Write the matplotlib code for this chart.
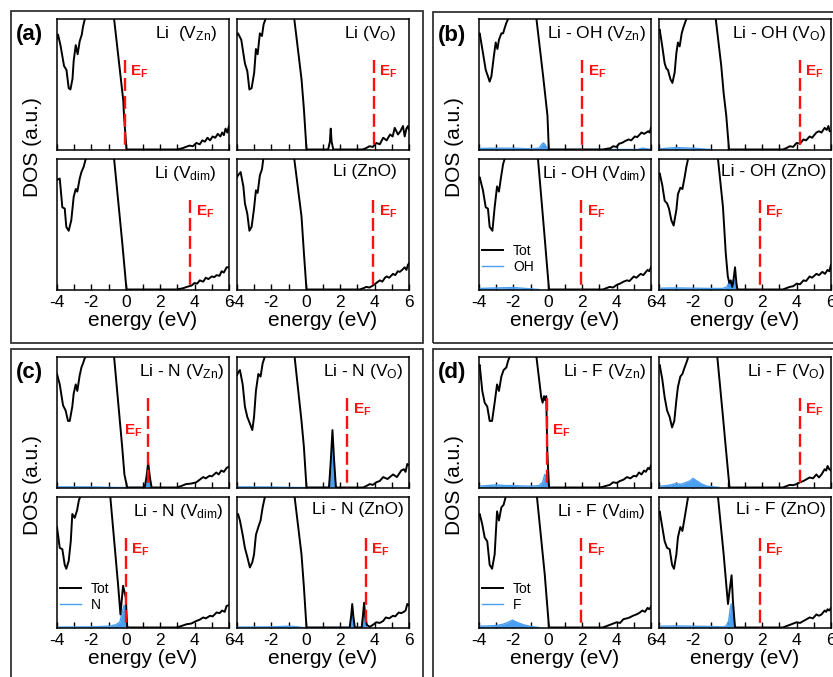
import matplotlib.pyplot as plt
from matplotlib.patches import Rectangle

plt.rcParams['font.family'] = 'Liberation Sans'
plt.rcParams['mathtext.fontset'] = 'custom'
plt.rcParams['mathtext.rm'] = 'Liberation Sans'
plt.rcParams['mathtext.it'] = 'Liberation Sans:italic'
plt.rcParams['mathtext.bf'] = 'Liberation Sans:bold'
plt.rcParams['axes.unicode_minus'] = False

# ---------------- (a) Li ----------------
a1_E = [-4.0, -3.94, -3.8, -3.59, -3.45, -3.32, -3.22, -3.1, -3.03, -2.91, -2.8, -2.68, -2.56, -2.49, -2.38,
        -2.3, -0.72, -0.68, -0.15, -0.1, 0.04, 3.0, 3.3, 3.5, 3.7, 3.9, 4.1, 4.3, 4.45, 4.6,
        4.75, 4.9, 5.05, 5.2, 5.35, 5.5, 5.6, 5.7, 5.8, 5.9, 6.0]
a1_D = [0.85, 0.88, 0.80, 0.64, 0.61, 0.47, 0.46, 0.54, 0.68, 0.80, 0.73, 0.83, 0.88, 0.94, 1.0,
        1.1, 1.1, 1.0, 0.38, 0.25, 0.0, 0.0, 0.01, 0.02, 0.03, 0.025, 0.05, 0.04, 0.07, 0.06,
        0.09, 0.07, 0.10, 0.09, 0.12, 0.10, 0.13, 0.11, 0.16, 0.13, 0.18]
a2_E = [-4.0, -3.94, -3.75, -3.54, -3.4, -3.28, -3.15, -3.0, -2.9, -2.8, -2.67, -2.55, -2.45, -2.34, -2.3,
        -0.7, -0.67, -0.25, -0.11, 0.04, 1.3, 1.4, 1.45, 1.5, 1.6, 3.3, 3.5, 3.7, 3.9, 4.1,
        4.3, 4.5, 4.7, 4.9, 5.05, 5.17, 5.36, 5.5, 5.65, 5.75, 5.85, 5.94, 6.0]
a2_D = [0.88, 0.89, 0.84, 0.66, 0.60, 0.46, 0.47, 0.59, 0.77, 0.73, 0.89, 0.87, 0.96, 1.0, 1.1,
        1.1, 1.0, 0.54, 0.31, 0.0, 0.0, 0.06, 0.16, 0.06, 0.0, 0.0, 0.01, 0.025, 0.02, 0.05,
        0.04, 0.09, 0.07, 0.115, 0.10, 0.166, 0.115, 0.14, 0.18, 0.10, 0.16, 0.18, 0.15]
a3_E = [-4.0, -3.84, -3.69, -3.55, -3.46, -3.32, -3.17, -3.03, -2.91, -2.82, -2.68, -2.58, -2.45, -2.33,
        -2.3, -0.72, -0.68, -0.2, 0.04, 2.95, 3.15, 3.34, 3.55, 3.82, 4.0, 4.15, 4.3, 4.5, 4.65,
        4.8, 5.0, 5.15, 5.28, 5.45, 5.57, 5.7, 5.86, 6.0]
a3_D = [0.84, 0.85, 0.63, 0.62, 0.48, 0.45, 0.53, 0.71, 0.77, 0.75, 0.85, 0.90, 0.94, 1.0,
        1.1, 1.1, 1.0, 0.35, 0.0, 0.0, 0.005, 0.01, 0.02, 0.03, 0.05, 0.045, 0.07, 0.06, 0.09,
        0.08, 0.10, 0.095, 0.11, 0.105, 0.14, 0.13, 0.17, 0.17]
a4_E = [-4.0, -3.94, -3.79, -3.63, -3.54, -3.4, -3.28, -3.15, -3.01, -2.9, -2.8, -2.67, -2.55, -2.47,
        -2.4, -0.72, -0.67, -0.25, -0.11, 0.04, 3.14, 3.35, 3.52, 3.7, 3.9, 4.1, 4.3, 4.45, 4.6,
        4.7, 4.85, 5.07, 5.2, 5.35, 5.46, 5.6, 5.75, 5.85, 5.94, 6.0]
a4_D = [0.86, 0.875, 0.90, 0.79, 0.66, 0.58, 0.45, 0.48, 0.62, 0.76, 0.74, 0.875, 0.92, 1.0,
        1.1, 1.1, 1.0, 0.56, 0.28, 0.0, 0.0, 0.01, 0.02, 0.015, 0.03, 0.05, 0.07, 0.06, 0.09,
        0.10, 0.09, 0.12, 0.11, 0.14, 0.135, 0.15, 0.17, 0.15, 0.19, 0.20]

# ---------------- (b) Li - OH ----------------
b1_E = [-4.0, -3.96, -3.77, -3.61, -3.48, -3.38, -3.28, -3.15, -3.03, -2.93, -2.84, -2.7, -2.6, -2.51, -2.41,
        -2.31, -2.25, -0.7, -0.66, -0.27, -0.12, -0.02, 0.06, 3.2, 3.4, 3.65, 3.8, 4.0, 4.15, 4.3,
        4.5, 4.7, 4.85, 5.06, 5.2, 5.45, 5.6, 5.84, 5.92, 6.0]
b1_D = [0.88, 0.89, 0.74, 0.61, 0.56, 0.52, 0.56, 0.70, 0.82, 0.77, 0.84, 0.89, 0.89, 0.93, 0.97,
        1.0, 1.1, 1.1, 1.0, 0.56, 0.38, 0.26, 0.0, 0.0, 0.005, 0.01, 0.025, 0.02, 0.045, 0.05,
        0.065, 0.077, 0.07, 0.10, 0.095, 0.13, 0.12, 0.14, 0.13, 0.166]
b1_pE = [-4.0, -3.0, -2.0, -1.0, -0.5, -0.35, -0.25, -0.15, -0.05, 0.05, 5.2, 5.5, 5.8, 6.0]
b1_pD = [0.008, 0.01, 0.01, 0.005, 0.01, 0.04, 0.05, 0.035, 0.01, 0.0, 0.0, 0.01, 0.005, 0.0]
b2_E = [-4.0, -3.96, -3.81, -3.67, -3.57, -3.48, -3.34, -3.22, -3.09, -2.99, -2.9, -2.8, -2.68, -2.57, -2.41,
        -2.35, -0.75, -0.7, -0.38, -0.24, -0.09, 0.07, 3.2, 3.4, 3.6, 3.8, 4.0, 4.2, 4.4, 4.55,
        4.76, 4.9, 5.15, 5.3, 5.45, 5.63, 5.75, 5.85, 5.92, 6.0]
b2_D = [0.91, 0.92, 0.79, 0.66, 0.62, 0.61, 0.54, 0.51, 0.59, 0.74, 0.82, 0.79, 0.89, 0.94, 1.0,
        1.1, 1.1, 1.0, 0.64, 0.43, 0.26, 0.0, 0.0, 0.01, 0.025, 0.02, 0.05, 0.045, 0.077, 0.07,
        0.10, 0.09, 0.13, 0.14, 0.13, 0.166, 0.15, 0.18, 0.14, 0.14]
b2_pE = [-4.0, -3.5, -3.0, -2.5, -2.0, -1.5, -1.0]
b2_pD = [0.005, 0.01, 0.015, 0.012, 0.01, 0.005, 0.0]
b3_E = [-4.0, -3.96, -3.77, -3.61, -3.48, -3.38, -3.22, -3.09, -2.95, -2.84, -2.72, -2.6, -2.51,
        -2.45, -0.62, -0.57, -0.17, -0.07, 0.07, 3.2, 3.4, 3.6, 3.8, 4.0, 4.2, 4.4, 4.6,
        4.75, 5.0, 5.15, 5.4, 5.55, 5.8, 5.9, 6.0]
b3_D = [0.85, 0.86, 0.76, 0.63, 0.62, 0.48, 0.45, 0.63, 0.79, 0.75, 0.86, 0.96, 1.0,
        1.1, 1.1, 1.0, 0.38, 0.22, 0.0, 0.0, 0.01, 0.02, 0.015, 0.035, 0.045, 0.06, 0.07,
        0.065, 0.10, 0.09, 0.12, 0.11, 0.15, 0.14, 0.17]
b3_pE = [-4.0, -3.0, -2.0, -1.5, -1.0, -0.5]
b3_pD = [0.008, 0.012, 0.015, 0.01, 0.005, 0.0]
b4_E = [-4.0, -3.96, -3.81, -3.67, -3.53, -3.42, -3.28, -3.15, -2.99, -2.9, -2.76, -2.64, -2.51, -2.41,
        -2.31, -2.25, -0.62, -0.57, -0.28, -0.12, 0.0, 0.09, 0.17, 0.25, 0.32, 0.42, 0.5, 0.56,
        3.2, 3.4, 3.6, 3.8, 4.0, 4.2, 4.4, 4.55, 4.76, 4.9, 5.15, 5.3, 5.5, 5.65, 5.8, 5.9, 6.0]
b4_D = [0.88, 0.89, 0.80, 0.68, 0.66, 0.62, 0.53, 0.49, 0.61, 0.73, 0.78, 0.77, 0.86, 0.94,
        1.0, 1.1, 1.1, 1.0, 0.63, 0.28, 0.10, 0.05, 0.07, 0.02, 0.06, 0.17, 0.05, 0.0,
        0.0, 0.01, 0.02, 0.025, 0.045, 0.04, 0.07, 0.065, 0.10, 0.09, 0.12, 0.11, 0.135, 0.12, 0.15, 0.14, 0.19]
b4_pE = [-4.0, -3.0, -2.0, -1.0, -0.3, -0.05, 0.1, 0.2, 0.35, 0.45, 0.55]
b4_pD = [0.01, 0.012, 0.01, 0.008, 0.008, 0.02, 0.06, 0.05, 0.08, 0.04, 0.0]

# ---------------- (c) Li - N ----------------
c1_E = [-4.0, -3.84, -3.65, -3.5, -3.36, -3.26, -3.11, -3.03, -2.91, -2.82, -2.68, -2.58, -2.49, -2.39, -2.33,
        -2.28, -0.72, -0.68, -0.21, -0.08, 0.08, 1.1, 1.2, 1.3, 1.4, 1.5, 2.95, 3.2, 3.5, 3.8,
        4.1, 4.3, 4.5, 4.65, 4.87, 5.0, 5.26, 5.4, 5.55, 5.7, 5.86, 6.0]
c1_D = [0.87, 0.79, 0.63, 0.59, 0.51, 0.51, 0.62, 0.72, 0.79, 0.74, 0.86, 0.92, 0.95, 0.99, 1.0,
        1.1, 1.1, 1.0, 0.31, 0.10, 0.0, 0.0, 0.08, 0.19, 0.08, 0.0, 0.0, 0.01, 0.026, 0.03,
        0.04, 0.06, 0.08, 0.07, 0.09, 0.085, 0.115, 0.10, 0.13, 0.12, 0.15, 0.16]
c1_pE = [-4.0, -2.0, -0.5, 1.1, 1.2, 1.3, 1.4, 1.5]
c1_pD = [0.005, 0.005, 0.0, 0.0, 0.05, 0.11, 0.05, 0.0]
c2_E = [-4.0, -3.94, -3.83, -3.67, -3.54, -3.4, -3.25, -3.11, -3.01, -2.9, -2.76, -2.63, -2.51, -2.39,
        -2.33, -0.7, -0.65, -0.25, -0.11, 0.04, 1.35, 1.45, 1.55, 1.65, 1.75, 3.33, 3.5, 3.72, 3.9,
        4.1, 4.3, 4.5, 4.75, 5.07, 5.3, 5.55, 5.7, 5.8, 5.9, 6.0]
c2_D = [0.86, 0.88, 0.90, 0.79, 0.62, 0.54, 0.49, 0.44, 0.54, 0.74, 0.87, 0.85, 0.95, 1.0,
        1.1, 1.1, 1.0, 0.51, 0.31, 0.0, 0.0, 0.20, 0.44, 0.20, 0.0, 0.0, 0.01, 0.026, 0.02,
        0.04, 0.05, 0.08, 0.065, 0.10, 0.08, 0.13, 0.14, 0.12, 0.18, 0.17]
c2_pE = [-4.0, -2.0, -0.5, 1.35, 1.45, 1.55, 1.65, 1.75]
c2_pD = [0.005, 0.004, 0.0, 0.0, 0.15, 0.31, 0.15, 0.0]
c3_E = [-4.0, -3.84, -3.69, -3.55, -3.46, -3.32, -3.2, -3.11, -2.97, -2.83, -2.72, -2.64,
        -2.6, -0.95, -0.9, -0.45, -0.31, -0.16, 0.0, 0.08, 2.95, 3.2, 3.53, 3.8, 4.1, 4.3,
        4.5, 4.65, 4.9, 5.05, 5.28, 5.45, 5.6, 5.75, 5.86, 6.0]
c3_D = [0.77, 0.61, 0.60, 0.48, 0.45, 0.51, 0.66, 0.87, 0.84, 0.90, 0.98, 1.0,
        1.1, 1.1, 1.0, 0.33, 0.10, 0.32, 0.23, 0.0, 0.0, 0.01, 0.025, 0.03, 0.05, 0.06,
        0.077, 0.07, 0.09, 0.085, 0.115, 0.11, 0.13, 0.12, 0.166, 0.17]
c3_pE = [-4.0, -2.0, -1.0, -0.6, -0.35, -0.2, -0.1, 0.0, 0.08, 0.15]
c3_pD = [0.003, 0.005, 0.01, 0.02, 0.04, 0.12, 0.17, 0.12, 0.02, 0.0]
c4_E = [-4.0, -3.94, -3.83, -3.67, -3.54, -3.4, -3.25, -3.11, -3.01, -2.9, -2.76, -2.63, -2.51, -2.38,
        -2.33, -0.7, -0.65, -0.25, -0.11, 0.04, 2.55, 2.63, 2.7, 2.77, 2.85, 3.25, 3.32, 3.39, 3.46,
        3.55, 3.72, 3.9, 4.1, 4.3, 4.5, 4.65, 4.85, 5.07, 5.2, 5.4, 5.55, 5.7, 5.8, 5.9, 6.0]
c4_D = [0.86, 0.87, 0.82, 0.71, 0.61, 0.54, 0.46, 0.50, 0.56, 0.71, 0.77, 0.82, 0.92, 1.0,
        1.1, 1.1, 1.0, 0.56, 0.31, 0.0, 0.0, 0.08, 0.18, 0.08, 0.0, 0.0, 0.09, 0.19, 0.08,
        0.02, 0.005, 0.02, 0.04, 0.035, 0.05, 0.077, 0.07, 0.09, 0.085, 0.115, 0.11, 0.12, 0.13, 0.18, 0.17]
c4_pE = [-4.0, -2.0, -1.0, -0.5, -0.2, 2.55, 2.63, 2.7, 2.77, 2.85, 3.25, 3.32, 3.39, 3.46, 3.55]
c4_pD = [0.003, 0.005, 0.01, 0.006, 0.0, 0.0, 0.05, 0.10, 0.05, 0.0, 0.0, 0.05, 0.11, 0.05, 0.0]

# ---------------- (d) Li - F ----------------
d1_E = [-4.0, -3.96, -3.81, -3.67, -3.52, -3.38, -3.24, -3.09, -2.95, -2.84, -2.7, -2.57, -2.41, -2.31, -2.22,
        -2.18, -0.7, -0.66, -0.38, -0.3, -0.22, -0.16, -0.09, -0.03, 0.07, 3.0, 3.2, 3.4, 3.6, 3.8,
        4.0, 4.2, 4.4, 4.6, 4.8, 5.0, 5.15, 5.3, 5.45, 5.6, 5.7, 5.83, 5.92, 6.0]
d1_D = [0.93, 0.94, 0.74, 0.65, 0.62, 0.51, 0.51, 0.65, 0.79, 0.74, 0.85, 0.90, 0.92, 0.97, 1.0,
        1.1, 1.1, 1.0, 0.69, 0.65, 0.70, 0.67, 0.70, 0.28, 0.0, 0.0, 0.005, 0.013, 0.02, 0.04,
        0.035, 0.05, 0.06, 0.08, 0.07, 0.09, 0.085, 0.115, 0.10, 0.13, 0.12, 0.15, 0.14, 0.17]
d1_pE = [-4.0, -3.5, -3.0, -2.5, -2.0, -1.5, -1.0, -0.5, -0.3, -0.18, -0.1, 0.0, 0.05]
d1_pD = [0.01, 0.015, 0.02, 0.015, 0.015, 0.012, 0.01, 0.015, 0.04, 0.10, 0.08, 0.01, 0.0]
d2_E = [-4.0, -3.96, -3.81, -3.67, -3.53, -3.38, -3.24, -3.11, -2.99, -2.9, -2.76, -2.64, -2.51, -2.37, -2.3,
        -2.25, -0.66, -0.61, -0.28, -0.12, 0.1, 3.2, 3.4, 3.6, 3.8, 4.0, 4.2, 4.4, 4.6, 4.76,
        4.95, 5.15, 5.3, 5.45, 5.63, 5.72, 5.8, 5.9, 6.0]
d2_D = [0.93, 0.94, 0.83, 0.69, 0.59, 0.54, 0.46, 0.51, 0.67, 0.77, 0.85, 0.87, 0.92, 0.97, 1.0,
        1.1, 1.1, 1.0, 0.54, 0.31, 0.0, 0.0, 0.01, 0.02, 0.018, 0.026, 0.04, 0.05, 0.065, 0.077,
        0.07, 0.10, 0.077, 0.10, 0.14, 0.13, 0.165, 0.14, 0.13]
d2_pE = [-4.0, -3.5, -3.0, -2.7, -2.4, -2.2, -2.02, -1.8, -1.5, -1.2, -0.8, -0.5]
d2_pD = [0.01, 0.015, 0.03, 0.025, 0.04, 0.05, 0.07, 0.05, 0.025, 0.01, 0.005, 0.0]
d3_E = [-4.0, -3.96, -3.81, -3.67, -3.52, -3.38, -3.24, -3.09, -2.95, -2.84, -2.7, -2.57, -2.45,
        -2.4, -0.68, -0.63, -0.18, 0.07, 3.2, 3.4, 3.6, 3.8, 4.0, 4.2, 4.4, 4.6, 4.76,
        4.95, 5.15, 5.3, 5.5, 5.65, 5.8, 5.9, 6.0]
d3_D = [0.86, 0.87, 0.79, 0.69, 0.66, 0.48, 0.45, 0.56, 0.89, 0.82, 0.92, 0.94, 1.0,
        1.1, 1.1, 1.0, 0.41, 0.0, 0.0, 0.01, 0.02, 0.03, 0.04, 0.035, 0.064, 0.07, 0.077,
        0.09, 0.10, 0.11, 0.13, 0.12, 0.15, 0.14, 0.16]
d3_pE = [-4.0, -3.5, -3.0, -2.6, -2.3, -2.06, -1.8, -1.4, -1.0, -0.5]
d3_pD = [0.01, 0.012, 0.015, 0.025, 0.04, 0.056, 0.04, 0.02, 0.008, 0.0]
d4_E = [-4.0, -3.96, -3.81, -3.67, -3.53, -3.38, -3.24, -3.13, -2.99, -2.9, -2.76, -2.64, -2.51, -2.41,
        -2.31, -2.25, -0.62, -0.57, -0.24, -0.09, 0.01, 0.12, 0.22, 0.3, 0.42, 3.2, 3.4, 3.6, 3.8,
        4.0, 4.2, 4.4, 4.6, 4.76, 4.95, 5.15, 5.3, 5.45, 5.63, 5.72, 5.8, 5.9, 6.0]
d4_D = [0.88, 0.89, 0.77, 0.66, 0.61, 0.60, 0.48, 0.45, 0.56, 0.69, 0.77, 0.74, 0.84, 0.92,
        1.0, 1.1, 1.1, 1.0, 0.56, 0.33, 0.18, 0.30, 0.40, 0.20, 0.0, 0.0, 0.01, 0.02, 0.03,
        0.04, 0.035, 0.05, 0.065, 0.077, 0.07, 0.10, 0.09, 0.10, 0.13, 0.12, 0.14, 0.13, 0.15]
d4_pE = [-4.0, -3.0, -2.0, -1.0, -0.3, -0.1, 0.05, 0.15, 0.2, 0.28, 0.36, 0.42]
d4_pD = [0.01, 0.012, 0.01, 0.008, 0.005, 0.01, 0.05, 0.15, 0.18, 0.15, 0.05, 0.0]

titles_a = ['Li  (V$_{\\mathrm{Zn}}$)', 'Li (V$_{\\mathrm{O}}$)', 'Li (V$_{\\mathrm{dim}}$)', 'Li (ZnO)']
titles_b = ['Li - OH (V$_{\\mathrm{Zn}}$)', 'Li - OH (V$_{\\mathrm{O}}$)', 'Li - OH (V$_{\\mathrm{dim}}$)', 'Li - OH (ZnO)']
titles_c = ['Li - N (V$_{\\mathrm{Zn}}$)', 'Li - N (V$_{\\mathrm{O}}$)', 'Li - N (V$_{\\mathrm{dim}}$)', 'Li - N (ZnO)']
titles_d = ['Li - F (V$_{\\mathrm{Zn}}$)', 'Li - F (V$_{\\mathrm{O}}$)', 'Li - F (V$_{\\mathrm{dim}}$)', 'Li - F (ZnO)']
ef_a = [-0.06, 3.95, 3.73, 3.91]
ef_b = [2.0, 4.18, 1.93, 1.85]
ef_c = [1.3, 2.42, 0.0, 3.49]
ef_d = [-0.07, 4.18, 1.93, 1.85]

BLUE = '#4a9ff0'
RED = '#ff1010'
W, H = 833, 677
fig = plt.figure(figsize=(W / 100, H / 100), dpi=100)


def add_ax(x, y, w=172, h=130.5):
    return fig.add_axes([x / W, 1 - (y + h) / H, w / W, h / H])


def draw(ax, E, D, ef, title, pE=None, pD=None, pname=None, tx=0.96,
         ef_left=False, ef_y=0.66, bottom=True):
    tot, = ax.plot(E, D, color='black', lw=1.4, zorder=3)
    if pE is not None:
        ax.fill_between(pE, 0, pD, color=BLUE, lw=0, zorder=2)
        pl, = ax.plot(pE, pD, color=BLUE, lw=1.0, zorder=2)
    # dashed Fermi level, drawn from its top end down so the pattern starts with a dash
    ax.axvline(ef, ymin=0.685, ymax=0.0, color=RED, lw=1.7, dashes=(5.5, 2.1), zorder=4)
    lab = r'$\mathbf{E}_{\mathbf{F}}$'
    if ef_left:
        ax.annotate(lab, (ef, ef_y), xycoords=('data', 'axes fraction'), xytext=(-4, 0),
                    textcoords='offset points', ha='right', va='top', color=RED, fontsize=11)
    else:
        ax.annotate(lab, (ef, ef_y), xycoords=('data', 'axes fraction'), xytext=(4, 0),
                    textcoords='offset points', ha='left', va='top', color=RED, fontsize=11)
    ax.text(tx, 0.965, title, transform=ax.transAxes, ha='right', va='top', fontsize=12.5)
    ax.set_xlim(-4, 6)
    ax.set_ylim(0, 1)
    ax.set_xticks([-4, -2, 0, 2, 4, 6])
    ax.set_xticks([-3, -1, 1, 3, 5], minor=True)
    ax.set_yticks([])
    ax.tick_params(axis='x', which='both', direction='in', length=4.5, width=1, top=False,
                   labelsize=12.5, pad=4)
    if not bottom:
        ax.tick_params(axis='x', labelbottom=False)
    else:
        ax.set_xlabel('energy (eV)', fontsize=15, labelpad=1)
    for s in ax.spines.values():
        s.set_linewidth(1.1)
    if pname is not None:
        ax.legend([tot, pl], ['Tot', pname], loc='upper left', bbox_to_anchor=(0.02, 0.35),
                  frameon=False, fontsize=10, handlelength=1.5, handletextpad=0.7,
                  labelspacing=0.15, borderpad=0, borderaxespad=0)


groups = [
    ('(a)', 11, 11, 57, 19, [(a1_E, a1_D, None, None), (a2_E, a2_D, None, None),
                             (a3_E, a3_D, None, None), (a4_E, a4_D, None, None)], titles_a, ef_a, None),
    ('(b)', 433, 12, 479, 19, [(b1_E, b1_D, b1_pE, b1_pD), (b2_E, b2_D, b2_pE, b2_pD),
                               (b3_E, b3_D, b3_pE, b3_pD), (b4_E, b4_D, b4_pE, b4_pD)], titles_b, ef_b, 'OH'),
    ('(c)', 11, 349, 57, 357, [(c1_E, c1_D, c1_pE, c1_pD), (c2_E, c2_D, c2_pE, c2_pD),
                               (c3_E, c3_D, c3_pE, c3_pD), (c4_E, c4_D, c4_pE, c4_pD)], titles_c, ef_c, 'N'),
    ('(d)', 433, 349, 479, 357, [(d1_E, d1_D, d1_pE, d1_pD), (d2_E, d2_D, d2_pE, d2_pD),
                                 (d3_E, d3_D, d3_pE, d3_pD), (d4_E, d4_D, d4_pE, d4_pD)], titles_d, ef_d, 'F'),
]

for tag, bx, by, x0, y0, panels, titles, efs, pname in groups:
    right = 423 if bx < 400 else 845
    bottom = 343 if by < 300 else 690
    fig.patches.append(Rectangle((bx / W, 1 - bottom / H), (right - bx) / W, (bottom - by) / H,
                                 transform=fig.transFigure, fill=False, ec='#333333', lw=1.3))
    fig.text((bx + 5) / W, 1 - (by + 13) / H, tag, fontsize=16, fontweight='bold', ha='left', va='top')
    fig.text((bx + 22) / W, 1 - (y0 + 128) / H, 'DOS (a.u.)', rotation=90, fontsize=15,
             ha='center', va='center')
    pos = [(x0, y0), (x0 + 180, y0), (x0, y0 + 140), (x0 + 180, y0 + 140)]
    for k in range(4):
        E, D, pE, pD = panels[k]
        ax = add_ax(*pos[k])
        ef_left = (tag == '(c)' and k == 0)
        ef_y = 0.5 if (k == 0 and tag in ('(c)', '(d)')) else 0.66
        tx = 0.93 if tag == '(a)' else 0.97
        draw(ax, E, D, efs[k], titles[k], pE, pD, pname if k == 2 else None, tx=tx,
             ef_left=ef_left, ef_y=ef_y, bottom=(k >= 2))

fig.savefig('out.png', dpi=100)
